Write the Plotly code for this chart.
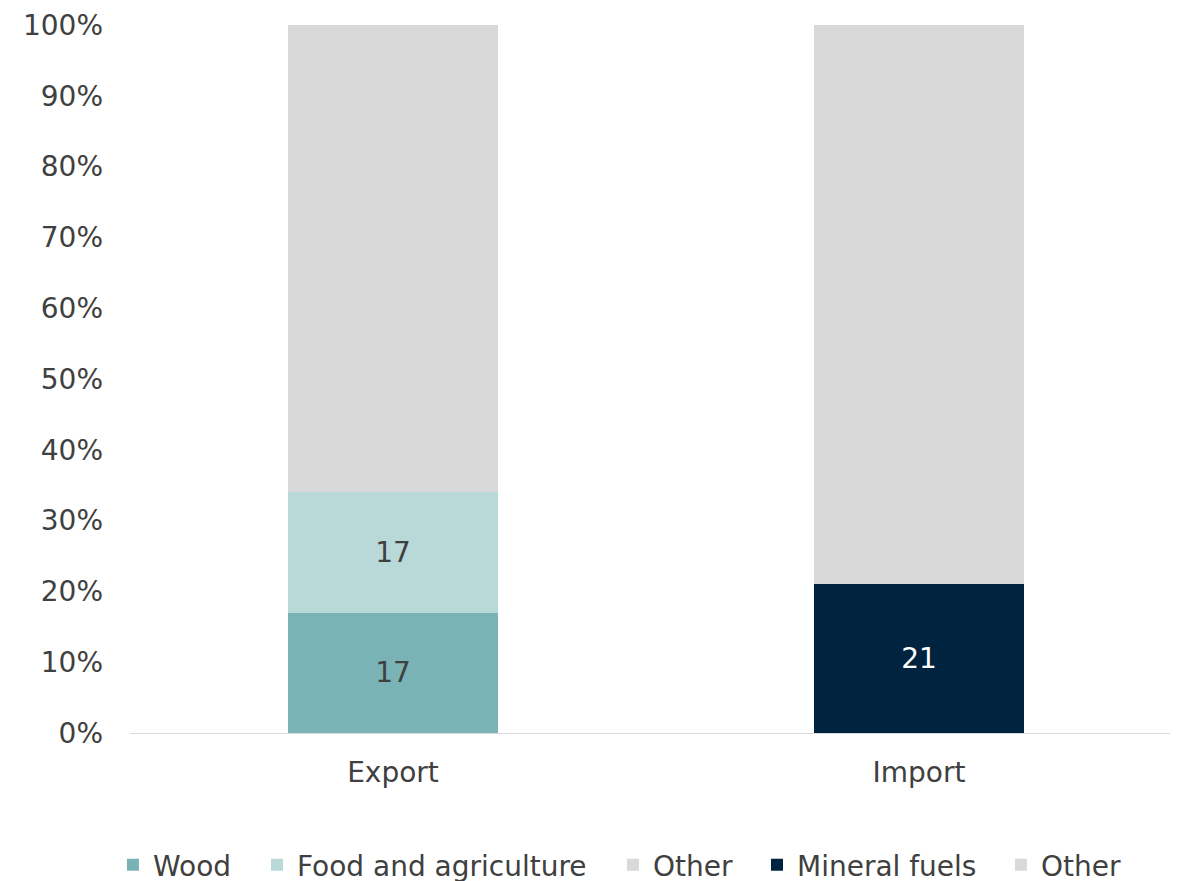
import plotly.graph_objects as go

categories = ["Export", "Import"]
series_names = ["Wood", "Food and agriculture", "Other", "Mineral fuels", "Other"]
series_cats = [["Export"], ["Export"], ["Export"], ["Import"], ["Import"]]
series_values = [[17], [17], [66], [21], [79]]
series_labels = [["17"], ["17"], [""], ["21"], [""]]
colors = ["#7AB3B5", "#B9D9D9", "#D9D9D9", "#00243F", "#D9D9D9"]
label_colors = ["#404040", "#404040", "#404040", "#FFFFFF", "#404040"]
legend_x = [-0.0162, 0.1207, 0.4591, 0.5960, 0.8279]

font = "DejaVu Sans, Verdana, sans-serif"
FS = 28
fig = go.Figure()
legend_layout = {}
for i, (name, cats, vals, labs, col, lc) in enumerate(zip(series_names, series_cats, series_values, series_labels, colors, label_colors)):
    lg = "legend" if i == 0 else f"legend{i+1}"
    fig.add_trace(go.Bar(
        name=name, x=cats, y=[v / 100 for v in vals], marker=dict(color=col, line=dict(width=0)),
        text=labs, textposition="inside", insidetextanchor="middle",
        textfont=dict(color=lc, size=FS, family=font), hoverinfo="skip",
        legend=lg, showlegend=True,
    ))
    legend_layout[lg] = dict(orientation="h", x=legend_x[i], xanchor="left", xref="paper",
                             y=0.0272, yanchor="middle", yref="container",
                             font=dict(size=FS, color="#404040", family=font), bgcolor="rgba(0,0,0,0)",
                             itemwidth=30)

fig.update_layout(
    barmode="stack", bargap=0.6, showlegend=True,
    width=1178, height=881,
    margin=dict(l=122, r=4, t=17, b=156, autoexpand=False),
    plot_bgcolor="white", paper_bgcolor="white",
    font=dict(family=font, size=FS, color="#404040"),
    xaxis=dict(categoryorder="array", categoryarray=categories, showline=True,
               linecolor="#D9D9D9", linewidth=1, ticks="", tickfont=dict(size=FS),
               showgrid=False, ticklabelstandoff=14, automargin=False),
    yaxis=dict(range=[0, 1], tickformat=".0%", dtick=0.1, showgrid=False,
               zeroline=False, showline=False, ticks="", tickfont=dict(size=FS),
               ticklabelstandoff=26, ticklabeloverflow="allow", automargin=False),
    **legend_layout,
)
fig.write_html("out.html")
